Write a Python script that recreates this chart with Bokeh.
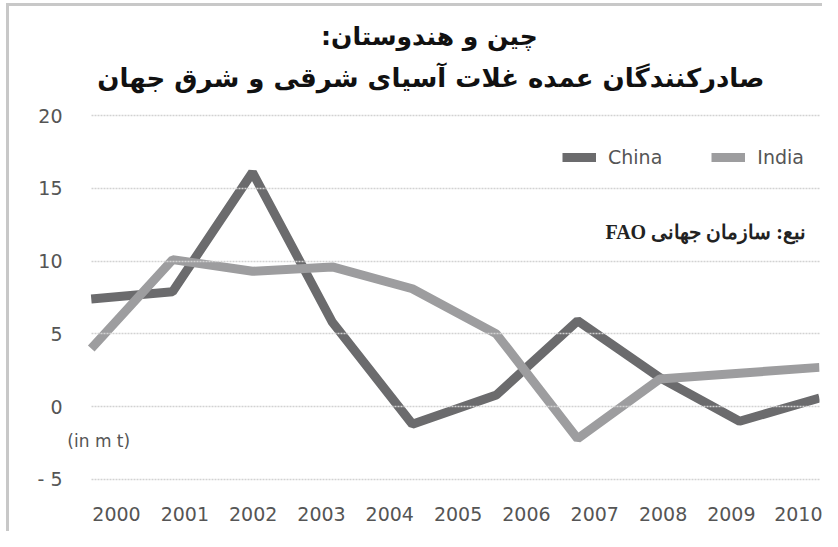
from bokeh.plotting import figure
from bokeh.models import Label, Legend, LegendItem, FixedTicker, Range1d
from bokeh.embed import file_html
from bokeh.resources import INLINE

# ---- data ----
years = [2000, 2001, 2002, 2003, 2004, 2005, 2006, 2007, 2008, 2009, 2010]
year_labels = [str(y) for y in years]
# horizontal positions of the line vertices (in year units, as drawn)
vertex_pos = [1999.63, 2000.82, 2001.99, 2003.16, 2004.33, 2005.56, 2006.75, 2007.95, 2009.12, 2010.29]
china = [7.4, 7.9, 16.1, 5.8, -1.2, 0.8, 5.9, 2.0, -1.0, 0.6]
india = [4.0, 10.1, 9.3, 9.6, 8.1, 5.0, -2.2, 1.9, 2.3, 2.7]
y_ticks = [-5, 0, 5, 10, 15, 20]
y_tick_labels = {-5: "- 5", 0: "0", 5: "5", 10: "10", 15: "15", 20: "20"}

title_1 = "\u202bچین و هندوستان:\u202c"
title_2 = "\u202bصادرکنندگان عمده غلات آسیای شرقی و شرق جهان\u202c"
source_text = "\u202bنبع: سازمان جهانی FAO\u202c"
unit_text = "(in m t)"

CHINA_C = "#6b6b6d"
INDIA_C = "#9d9d9f"
TXT_C = "#555555"
FONT = "DejaVu Sans"

p = figure(width=816, height=528, output_backend="svg", toolbar_location=None,
           x_range=Range1d(1999.253, 2010.29), y_range=Range1d(-5.69, 27.15),
           min_border_left=56, min_border_right=6, min_border_top=5,
           min_border_bottom=45, title=None)
p.outline_line_color = None
p.background_fill_color = "white"
p.border_fill_color = "white"
p.styles = {"border-top": "3px solid #c8c8c8", "border-left": "3px solid #c8c8c8",
            "margin-left": "6px", "margin-top": "3px"}

r_china = p.line(vertex_pos, china, line_color=CHINA_C, line_width=9)
r_india = p.line(vertex_pos, india, line_color=INDIA_C, line_width=9)

# axes
p.xaxis.ticker = FixedTicker(ticks=years)
p.xaxis.major_label_overrides = {y: l for y, l in zip(years, year_labels)}
p.yaxis.ticker = FixedTicker(ticks=y_ticks)
p.yaxis.major_label_overrides = y_tick_labels
for ax in (p.xaxis, p.yaxis):
    ax.axis_line_color = None
    ax.major_tick_line_color = None
    ax.minor_tick_line_color = None
    ax.major_tick_out = 0
    ax.major_tick_in = 0
    ax.minor_tick_out = 0
    ax.major_label_text_font = FONT
    ax.major_label_text_font_size = "19px"
    ax.major_label_text_color = TXT_C
p.xaxis.major_label_standoff = 17
p.yaxis.major_label_standoff = 3

p.xgrid.grid_line_color = None
p.ygrid.ticker = FixedTicker(ticks=y_ticks)
p.ygrid.cross_bounds = (vertex_pos[0], vertex_pos[-1])
p.ygrid.grid_line_color = "#d2d2d2"
p.ygrid.grid_line_width = 1.5
p.ygrid.grid_line_dash = "2 1"
p.ygrid.level = "overlay"

# legend
legend = Legend(items=[LegendItem(label="China", renderers=[r_china]),
                       LegendItem(label="India", renderers=[r_india])],
                orientation="horizontal", location=(497, 321),
                glyph_width=34, glyph_height=20, label_height=20,
                label_standoff=12, spacing=49, padding=0, margin=0,
                border_line_color=None, background_fill_alpha=0,
                label_text_font=FONT, label_text_font_size="19px",
                label_text_color=TXT_C)
p.add_layout(legend)

# titles and notes
p.add_layout(Label(x=2004.58, y=25.43, text=title_1, text_align="center",
                   text_baseline="middle", text_font="DejaVu Sans",
                   text_font_style="bold", text_font_size="25px", text_color="#111111"))
p.add_layout(Label(x=2004.6, y=22.61, text=title_2, text_align="center",
                   text_baseline="middle", text_font="DejaVu Sans",
                   text_font_style="bold", text_font_size="26px", text_color="#111111"))
p.add_layout(Label(x=2010.09, y=12.03, text=source_text, text_align="right",
                   text_baseline="middle", text_font="Liberation Serif",
                   text_font_style="bold", text_font_size="20px", text_color="#222222"))
p.add_layout(Label(x=1999.28, y=-2.33, text=unit_text, text_align="left",
                   text_baseline="middle", text_font=FONT,
                   text_font_size="17px", text_color=TXT_C))

open("out.html", "w").write(file_html(p, INLINE))
